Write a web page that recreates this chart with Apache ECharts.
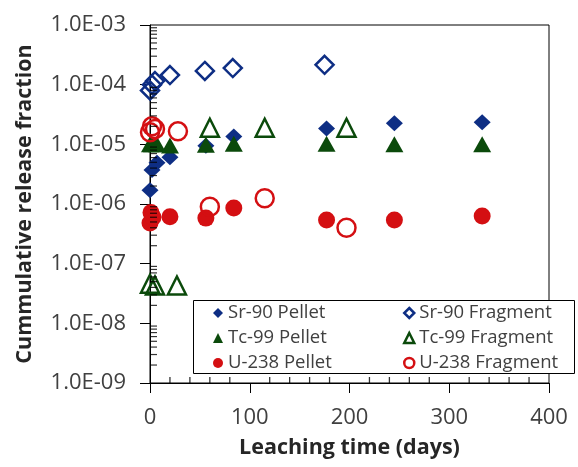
<!DOCTYPE html>
<html>
<head>
<meta charset="utf-8">
<script src="https://cdn.jsdelivr.net/npm/echarts@6/dist/echarts.min.js"></script>
<style>
html,body{margin:0;padding:0;background:#fff;}
#chart{width:578px;height:467px;}
</style>
</head>
<body>
<div id="chart"></div>
<script>
// ---- data ----
const srPelletDays = [0, 2, 7, 20, 56, 84, 177, 245, 333];
const srPelletVals = [1.7e-6, 3.7e-6, 4.9e-6, 6.1e-6, 9.5e-6, 1.35e-5, 1.85e-5, 2.25e-5, 2.35e-5];
const srFragDays = [0, 2, 5, 20, 55, 83, 175];
const srFragVals = [8.0e-5, 1.0e-4, 1.15e-4, 1.45e-4, 1.7e-4, 1.9e-4, 2.15e-4];
const tcPelletDays = [0, 2, 7, 20, 56, 84, 177, 245, 333];
const tcPelletVals = [1.0e-5, 1.0e-5, 1.0e-5, 9.6e-6, 9.8e-6, 1.02e-5, 1.02e-5, 1.0e-5, 1.0e-5];
const tcFragDays = [0, 5, 27, 60, 115, 197];
const tcFragVals = [4.6e-8, 4.3e-8, 4.3e-8, 1.9e-5, 1.9e-5, 1.9e-5];
const uPelletDays = [0, 1, 3, 20, 56, 84, 177, 245, 333];
const uPelletVals = [4.8e-7, 7.2e-7, 6.0e-7, 6.1e-7, 5.8e-7, 8.6e-7, 5.4e-7, 5.4e-7, 6.3e-7];
const uFragDays = [0, 2, 5, 28, 60, 115, 197];
const uFragVals = [1.6e-5, 2.0e-5, 1.8e-5, 1.65e-5, 9.0e-7, 1.25e-6, 4.0e-7];

const seriesNames = ['Sr-90 Pellet', 'Sr-90 Fragment', 'Tc-99 Pellet', 'Tc-99 Fragment', 'U-238 Pellet', 'U-238 Fragment'];
const xTicks = [0, 100, 200, 300, 400];
const yTickValues = [1e-9, 1e-8, 1e-7, 1e-6, 1e-5, 1e-4, 1e-3];
const yTickLabels = ['1.0E-09', '1.0E-08', '1.0E-07', '1.0E-06', '1.0E-05', '1.0E-04', '1.0E-03'];
const xAxisTitle = 'Leaching time (days)';
const yAxisTitle = 'Cummulative release fraction';

// ---- styling ----
const BLUE = '#0E2E84';
const GREEN = '#0B4A0B';
const RED = '#D40F12';
const TXT = '#404040';
const FONT = 'Open Sans';

const yMinor = [];
for (let e = -9; e < -3; e++) {
  for (let k = 2; k <= 9; k++) yMinor.push(k * Math.pow(10, e));
}
const xMinor = [];
for (let v = 20; v < 400; v += 20) if (v % 100 !== 0) xMinor.push(v);

function pairs(xs, ys) { return xs.map((x, i) => [x, ys[i]]); }

const chart = echarts.init(document.getElementById('chart'), null, {renderer: 'canvas'});

function mk(name, xs, ys, symbol, size, fill, border, bw) {
  return {
    name: name,
    type: 'scatter',
    symbol: symbol,
    symbolSize: size,
    data: pairs(xs, ys),
    itemStyle: {color: fill, borderColor: border, borderWidth: bw, opacity: 1},
    emphasis: {disabled: true},
    clip: false,
    z: 3
  };
}

const legendText = {fontFamily: FONT, fontSize: 18.5, color: TXT, lineHeight: 20};

chart.setOption({
  animation: false,
  backgroundColor: '#fff',
  grid: {
    left: 150, top: 25, right: 29, bottom: 84,
    show: true, borderColor: '#000', borderWidth: 1,
    containLabel: false, outerBoundsMode: 'none'
  },
  graphic: [{
    type: 'rect', left: 193, top: 300, z: 10,
    shape: {width: 381, height: 73},
    style: {fill: '#fff', stroke: '#000', lineWidth: 1}
  }],
  legend: [{
    data: [
      {name: seriesNames[0], icon: 'diamond', itemStyle: {color: BLUE, borderWidth: 0}},
      {name: seriesNames[2], icon: 'triangle', itemStyle: {color: GREEN, borderWidth: 0}},
      {name: seriesNames[4], icon: 'circle', itemStyle: {color: RED, borderWidth: 0}}
    ],
    orient: 'vertical', left: 213, top: 303, z: 20,
    itemWidth: 10, itemHeight: 10, itemGap: 5,
    textStyle: legendText, selectedMode: false, padding: 0
  }, {
    data: [
      {name: seriesNames[1], icon: 'diamond', itemStyle: {color: '#fff', borderColor: BLUE, borderWidth: 2.5}},
      {name: seriesNames[3], icon: 'triangle', itemStyle: {color: '#fff', borderColor: GREEN, borderWidth: 2.5}},
      {name: seriesNames[5], icon: 'circle', itemStyle: {color: '#fff', borderColor: RED, borderWidth: 2.5}}
    ],
    orient: 'vertical', left: 403, top: 303, z: 20,
    itemWidth: 10, itemHeight: 10, itemGap: 5,
    textStyle: legendText, selectedMode: false, padding: 0
  }],
  xAxis: [{
    type: 'value', min: 0, max: 400, interval: 100,
    name: xAxisTitle, nameLocation: 'middle', nameGap: 54,
    nameTextStyle: {fontFamily: FONT, fontSize: 21.5, fontWeight: 'bold', color: '#262626'},
    axisLine: {show: true, onZero: false, lineStyle: {color: '#000', width: 1}},
    axisTick: {show: true, inside: false, length: 10, lineStyle: {color: '#000'}},
    axisLabel: {show: true, margin: 24, fontFamily: FONT, fontSize: 22, color: TXT,
      customValues: xTicks},
    splitLine: {show: false}
  }],
  yAxis: [{
    type: 'log', logBase: 10, min: 1e-9, max: 1e-3,
    name: yAxisTitle, nameLocation: 'middle', nameGap: 114,
    nameTextStyle: {fontFamily: FONT, fontSize: 21.5, fontWeight: 'bold', color: '#262626'},
    axisLine: {show: true, onZero: false, lineStyle: {color: '#000', width: 1}},
    axisTick: {show: true, inside: false, length: 10, lineStyle: {color: '#000'}, customValues: yTickValues},
    axisLabel: {show: true, margin: 24, fontFamily: FONT, fontSize: 22, color: TXT,
      customValues: yTickValues,
      formatter: function (v) {
        const i = yTickValues.findIndex(t => Math.abs(Math.log10(t) - Math.log10(v)) < 1e-6);
        return i >= 0 ? yTickLabels[i] : '';
      }},
    splitLine: {show: false}
  }],
  series: [
    {
      type: 'scatter', name: 'yMinorTicks', silent: true, clip: false, z: 5,
      symbol: 'rect', symbolSize: [7, 1.2], symbolOffset: [3.5, 0],
      itemStyle: {color: '#000'},
      data: yMinor.map(v => [0, v])
    },
    {
      type: 'scatter', name: 'xMinorTicks', silent: true, clip: false, z: 5,
      symbol: 'rect', symbolSize: [1.3, 6], symbolOffset: [0, -3],
      itemStyle: {color: '#000'},
      data: xMinor.map(v => [v, 1e-9])
    },
    mk(seriesNames[0], srPelletDays, srPelletVals, 'diamond', [17, 16], BLUE, BLUE, 0),
    mk(seriesNames[1], srFragDays, srFragVals, 'diamond', [18, 18], 'rgba(255,255,255,0)', BLUE, 2.5),
    mk(seriesNames[2], tcPelletDays, tcPelletVals, 'triangle', [18, 16], GREEN, GREEN, 0),
    mk(seriesNames[3], tcFragDays, tcFragVals, 'triangle', [18, 18], 'rgba(255,255,255,0)', GREEN, 2.5),
    mk(seriesNames[4], uPelletDays, uPelletVals, 'circle', 17, RED, RED, 0),
    mk(seriesNames[5], uFragDays, uFragVals, 'circle', 18, 'rgba(255,255,255,0)', RED, 2.5)
  ]
});
</script>
</body>
</html>
